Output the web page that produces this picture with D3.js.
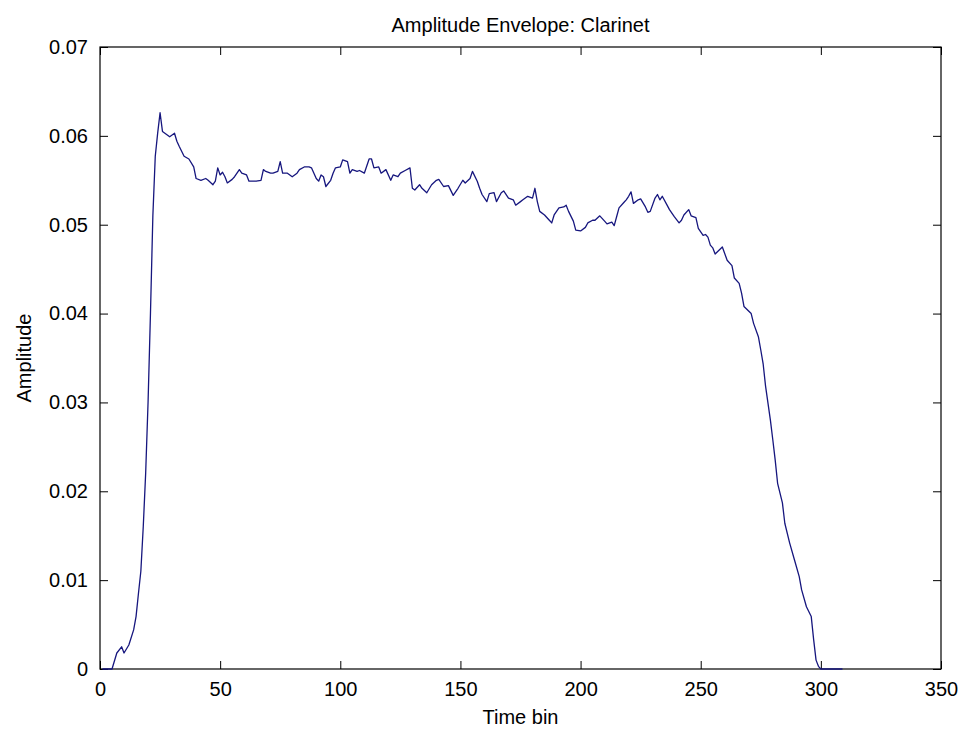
<!DOCTYPE html>
<html><head><meta charset="utf-8">
<script src="https://cdn.jsdelivr.net/npm/d3@7/dist/d3.min.js"></script>
<style>html,body{margin:0;padding:0;background:#fff;} svg{display:block;}</style>
</head><body>
<svg id="chart" width="964" height="733"></svg>
<script>
// ---- data ----
const timeBins = [1,5,7,9,10,12,14,15,16,17,18,19,20,21,22,23,24,25,26,27,29,31,32,33,35,37,39,40,42,44,45,47,48,49,50,51,52,53,55,56,58,59,61,62,65,67,68,69,71,72,74,75,76,78,80,82,83,85,87,88,90,91,92,93,94,96,97,98,100,101,103,104,105,107,108,110,112,113,114,116,117,119,121,122,124,125,127,129,130,131,133,134,136,138,140,141,143,145,147,149,151,152,154,155,157,158,159,161,162,164,165,167,168,170,172,173,175,176,178,180,181,182,183,185,187,188,189,191,193,194,195,197,198,200,202,203,205,206,208,210,211,213,214,215,216,218,219,220,221,222,224,225,227,228,229,231,232,233,234,236,237,239,241,242,243,245,246,248,249,250,251,252,253,254,255,256,259,261,263,264,266,267,268,271,272,274,275,276,277,279,280,281,282,284,285,287,289,291,292,294,296,297,298,299,300,309];
const amplitude = [0,0,0.0018,0.0025,0.0018,0.0027,0.0044,0.0059,0.0085,0.011,0.016,0.022,0.030,0.040,0.051,0.0577,0.0603,0.0626,0.0605,0.0603,0.0599,0.0603,0.0594,0.0588,0.0577,0.0574,0.0565,0.0552,0.0550,0.0552,0.0550,0.0545,0.0549,0.0564,0.0556,0.0559,0.0554,0.0547,0.0551,0.0554,0.0562,0.0558,0.0556,0.0549,0.0549,0.0550,0.0562,0.0560,0.0558,0.0558,0.0560,0.0571,0.0558,0.0558,0.0554,0.0558,0.0562,0.0565,0.0565,0.0564,0.0552,0.0549,0.0556,0.0554,0.0543,0.0550,0.0558,0.0564,0.0565,0.0573,0.0571,0.0558,0.0562,0.0560,0.0561,0.0558,0.0574,0.0574,0.0564,0.0565,0.0558,0.0562,0.0550,0.0556,0.0554,0.0558,0.0561,0.0564,0.0541,0.0539,0.0545,0.0541,0.0536,0.0545,0.0550,0.0551,0.0543,0.0544,0.0533,0.0541,0.0550,0.0547,0.0552,0.0560,0.0549,0.0541,0.0534,0.0526,0.0535,0.0536,0.0526,0.0536,0.0538,0.0530,0.0528,0.0522,0.0526,0.0528,0.0532,0.0530,0.0541,0.0526,0.0515,0.0511,0.0505,0.0502,0.0511,0.0519,0.0520,0.0522,0.0515,0.0504,0.0494,0.0493,0.0497,0.0502,0.0505,0.0505,0.0510,0.0504,0.0501,0.0503,0.0499,0.0509,0.0519,0.0525,0.0528,0.0532,0.0537,0.0524,0.0528,0.0529,0.0520,0.0514,0.0515,0.0530,0.0534,0.0528,0.0532,0.0522,0.0517,0.0509,0.0502,0.0505,0.0511,0.0517,0.0510,0.0508,0.0496,0.0492,0.0488,0.0489,0.0486,0.0477,0.0474,0.0467,0.0475,0.0460,0.0454,0.0440,0.0434,0.0423,0.0408,0.0400,0.0389,0.0374,0.0359,0.0343,0.0318,0.0280,0.0258,0.0235,0.0209,0.0187,0.0164,0.0142,0.0123,0.0104,0.0089,0.0070,0.0059,0.0033,0.0010,0.0003,0,0];
const xTickValues = [0,50,100,150,200,250,300,350];
const yTickValues = [0,0.01,0.02,0.03,0.04,0.05,0.06,0.07];
const yTickLabels = ["0","0.01","0.02","0.03","0.04","0.05","0.06","0.07"];
const titleText = "Amplitude Envelope: Clarinet";
const xLabelText = "Time bin";
const yLabelText = "Amplitude";

// ---- layout ----
const W = 964, H = 733;
const plot = {left: 100, right: 941, top: 47, bottom: 669};
const FONT = "'Liberation Sans', Arial, Helvetica, sans-serif";
const FS = 20;

const svg = d3.select("#chart");
svg.append("rect").attr("width", W).attr("height", H).attr("fill", "#fff");

const x = d3.scaleLinear().domain([0, 350]).range([plot.left, plot.right]);
const y = d3.scaleLinear().domain([0, 0.07]).range([plot.bottom, plot.top]);

const TL = 8;
const gx = svg.append("g").attr("transform", `translate(0,${plot.bottom})`)
  .call(d3.axisBottom(x).tickValues(xTickValues).tickSizeInner(-TL).tickSizeOuter(0).tickPadding(13).tickFormat(d3.format("d")));
const gxt = svg.append("g").attr("transform", `translate(0,${plot.top})`)
  .call(d3.axisTop(x).tickValues(xTickValues).tickSizeInner(-TL).tickSizeOuter(0).tickFormat(""));
const gy = svg.append("g").attr("transform", `translate(${plot.left},0)`)
  .call(d3.axisLeft(y).tickValues(yTickValues).tickSizeInner(-TL).tickSizeOuter(0).tickPadding(12).tickFormat((d,i) => yTickLabels[i]));
const gyr = svg.append("g").attr("transform", `translate(${plot.right},0)`)
  .call(d3.axisRight(y).tickValues(yTickValues).tickSizeInner(-TL).tickSizeOuter(0).tickFormat(""));

[gx, gxt, gy, gyr].forEach(g => {
  g.select(".domain").remove();
  g.selectAll(".tick line").attr("stroke", "#000").attr("stroke-width", 1);
  g.selectAll("text").attr("fill", "#000").attr("font-family", FONT).attr("font-size", FS);
});

svg.append("rect")
  .attr("x", plot.left).attr("y", plot.top)
  .attr("width", plot.right - plot.left).attr("height", plot.bottom - plot.top)
  .attr("fill", "none").attr("stroke", "#000").attr("stroke-width", 1.2);

const pts = timeBins.map((b, i) => [b, amplitude[i]]);
const line = d3.line().x(d => x(d[0])).y(d => y(d[1]));
svg.append("path").datum(pts)
  .attr("d", line).attr("fill", "none")
  .attr("stroke", "#16167e").attr("stroke-width", 1.3).attr("stroke-linejoin", "round");

svg.append("text").attr("x", (plot.left + plot.right) / 2).attr("y", 32)
  .attr("text-anchor", "middle").attr("font-family", FONT).attr("font-size", FS).text(titleText);
svg.append("text").attr("x", (plot.left + plot.right) / 2).attr("y", 724)
  .attr("text-anchor", "middle").attr("font-family", FONT).attr("font-size", FS).text(xLabelText);
svg.append("text").attr("transform", `translate(31,${(plot.top + plot.bottom) / 2}) rotate(-90)`)
  .attr("text-anchor", "middle").attr("font-family", FONT).attr("font-size", FS).text(yLabelText);
</script>
</body></html>
